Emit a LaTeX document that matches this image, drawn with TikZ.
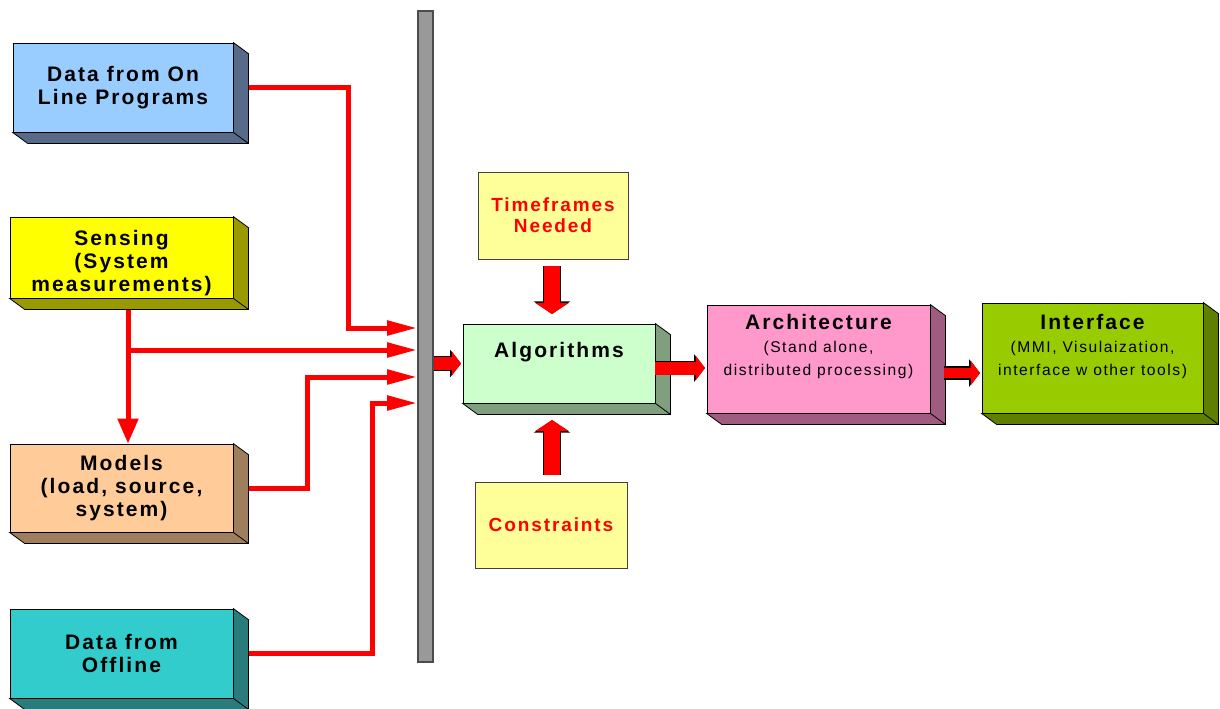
\documentclass[tikz,border=0pt]{standalone}
\usepackage{fontspec}
\setmainfont{Liberation Sans}[LetterSpace=10]
\usetikzlibrary{arrows.meta}

\definecolor{onlineblue}{HTML}{99CCFF}
\definecolor{onlineside}{HTML}{586A8A}
\definecolor{sensyellow}{HTML}{FFFF00}
\definecolor{sensside}{HTML}{999900}
\definecolor{modelpeach}{HTML}{FFCC99}
\definecolor{modelside}{HTML}{9E7E5C}
\definecolor{offteal}{HTML}{33CCCC}
\definecolor{offside}{HTML}{2A7C7C}
\definecolor{alggreen}{HTML}{CCFFCC}
\definecolor{algside}{HTML}{7F9F7F}
\definecolor{archpink}{HTML}{FF99CC}
\definecolor{archside}{HTML}{A05C80}
\definecolor{ifgreen}{HTML}{99CC00}
\definecolor{ifside}{HTML}{5F7F00}
\definecolor{noteyellow}{HTML}{FFFF99}
\definecolor{bargray}{HTML}{999999}

\tikzset{
  blk/.style={draw=black, thin, inner sep=0pt, align=center,
    font=\bfseries\fontsize{10.5}{11.5}\selectfont},
  note/.style={draw=black!75, thin, fill=noteyellow, inner sep=0pt, align=center,
    text=red, font=\bfseries\fontsize{9.5}{10.5}\selectfont},
  wire/.style={red, line width=2.5pt, -{Triangle[length=15pt,width=7pt]}},
  fatarrow/.style={red, line width=6.5pt, shorten >=0.8pt,
    -{Triangle[length=4.6pt,width=12pt]},
    preaction={draw=black, line width=7.3pt, -{Triangle[length=5.4pt,width=13.4pt]}}},
  fatarrowv/.style={red, line width=8pt, shorten >=0.8pt,
    -{Triangle[length=5.5pt,width=16.5pt]},
    preaction={draw=black, line width=8.8pt, -{Triangle[length=6.3pt,width=17.9pt]}}}
}

% side and bottom faces of a raised box
\newcommand{\boxdepth}[2]{%
  \filldraw[fill=#2, draw=black, thin] (#1.north east) -- ++(7.5pt,-5.5pt)
    |- ([shift={(7.5pt,-5.5pt)}]#1.south west) -- (#1.south west)
    -- (#1.south east) -- cycle;
  \draw[thin] (#1.south east) -- ++(7.5pt,-5.5pt);
}
\newcommand{\sub}{\mdseries\fontsize{7.8}{10.5}\selectfont}

\begin{document}
\begin{tikzpicture}[x=0.5pt,y=-0.5pt]
  \useasboundingbox (0,0) rectangle (1220,708);
  % input blocks
  \node[blk, fill=onlineblue, minimum width=110pt, minimum height=44.5pt] (online) at (123,87.5) {Data from On\\Line Programs};
  \node[blk, fill=sensyellow, minimum width=111.5pt, text height=37pt, text depth=3.5pt] (sensing) at (121.5,257.5) {Sensing\\(System\\measurements)};
  \node[blk, fill=modelpeach, minimum width=111.5pt, minimum height=44pt] (models) at (121.5,488) {Models\\(load, source,\\system)};
  \node[blk, fill=offteal, minimum width=111.5pt, minimum height=44.5pt] (offline) at (121.5,653.5) {Data from\\Offline};
  % collecting bar
  \node[draw=black!70, fill=bargray, line width=0.8pt, minimum width=7.5pt, minimum height=325.5pt, inner sep=0pt] (bar) at (425.5,336.5) {};
  % processing chain
  \node[blk, fill=alggreen, minimum width=96pt, text height=16.5pt, text depth=23pt] (alg) at (559,363.5) {Algorithms};
  \node[note, minimum width=75pt, minimum height=43.5pt] (tf) at (553,215.5) {Timeframes\\Needed};
  \node[note, minimum width=76pt, minimum height=43pt] (cons) at (551,525) {Constraints};
  \node[blk, fill=archpink, minimum width=111.5pt, text height=35pt, text depth=19pt] (arch) at (818.5,359) {Architecture\\{\sub (Stand alone,}\\{\sub distributed processing)}};
  \node[blk, fill=ifgreen, minimum width=110.5pt, text height=36pt, text depth=19pt] (iface) at (1092.5,358) {Interface\\{\sub (MMI, Visulaization,}\\{\sub interface w other tools)}};

  % wires into the bar
  \coordinate (tap) at (128,350);
  \draw[wire] (online.east) -| (348,328) -- (bar.west |- 0,328);
  \draw[red, line width=2.5pt, -{Triangle[length=12.5pt,width=10pt]}] ([xshift=3.25pt]sensing.south) -- ([xshift=3.25pt]models.north);
  \draw[wire] (tap) -- (bar.west |- tap);
  \draw[wire] (models.east) -| (307,377) -- (bar.west |- 0,377);
  \draw[wire] (offline.east) -| (372,403) -- (bar.west |- 0,403);

  \boxdepth{online}{onlineside}
  \boxdepth{sensing}{sensside}
  \boxdepth{models}{modelside}
  \boxdepth{offline}{offside}
  \boxdepth{alg}{algside}
  \boxdepth{arch}{archside}
  \boxdepth{iface}{ifside}

  % block arrows
  \draw[fatarrow] (bar.east |- alg.west) -- (alg.west);
  \draw[fatarrow] ([yshift=-2.25pt]alg.east) -- ([yshift=-2.25pt]alg.east -| arch.west);
  \draw[fatarrow, line width=5pt, preaction={line width=5.8pt}] ([xshift=7pt,yshift=-7pt]arch.east) -- ([yshift=-7pt]arch.east -| iface.west);
  \draw[fatarrowv] ([xshift=-0.5pt,yshift=-3.5pt]tf.south) -- ([xshift=-3.5pt,yshift=4pt]alg.north);
  \draw[fatarrowv] ([xshift=0.5pt,yshift=3.5pt]cons.north) -- ([xshift=-3.5pt,yshift=-7.5pt]alg.south);
\end{tikzpicture}
\end{document}
